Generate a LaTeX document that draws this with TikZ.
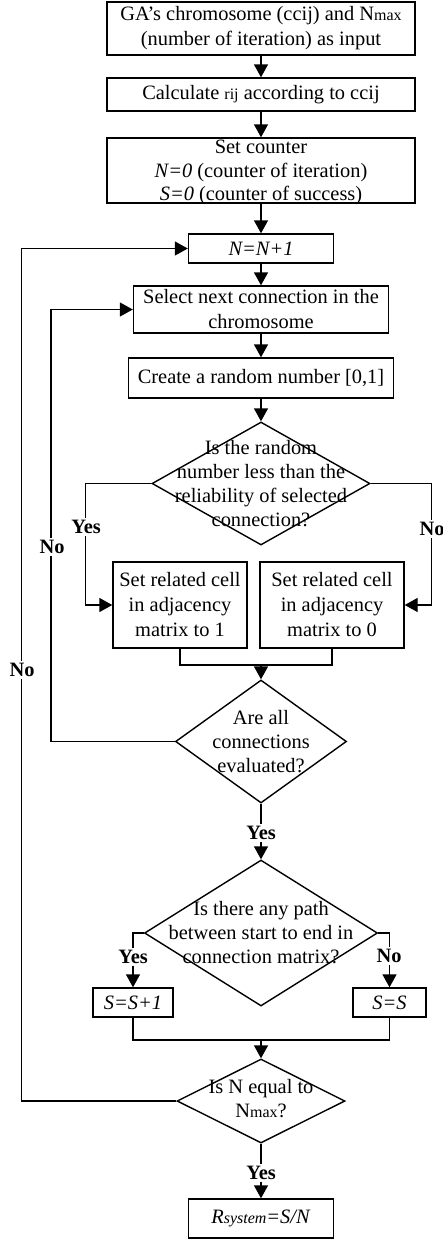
\documentclass[tikz,border=0pt]{standalone}
\usepackage{fontspec}
\setmainfont{Liberation Serif}
\usetikzlibrary{shapes.geometric,arrows.meta}

\newcommand{\sm}[1]{{\fontsize{8}{9}\selectfont #1}}

\tikzset{
  block/.style={draw, line width=0.7pt, align=center, inner sep=0pt,
    font=\fontsize{10.2}{12.5}\selectfont},
  decision/.style={draw, diamond, line width=0.7pt, inner sep=0pt},
  dtext/.style={align=center, inner sep=0pt, font=\fontsize{10.2}{12}\selectfont},
  line/.style={line width=0.7pt},
  arrow/.style={line, -{Triangle[length=6.5pt,width=7pt]}},
  answer/.style={fill=white, inner sep=1pt, font=\fontsize{10.2}{12}\selectfont\bfseries},
}

\begin{document}
\begin{tikzpicture}[x=0.5pt,y=-0.5pt]
      \useasboundingbox (0,0) rectangle (443,1243);

      %%%% boxes and decisions
      \node[block, minimum width=154pt, minimum height=26.5pt] (start) at (261,28.5)
        {GA's chromosome (ccij) and N\sm{max}\\(number of iteration) as input};
      \node[block, minimum width=154pt, minimum height=16.5pt] (calc) at (261,94.5)
        {Calculate \sm{rij} according to ccij};
      \node[block, minimum width=154pt, minimum height=32.5pt] (init) at (261,170.5) {};
      \node[block, draw=none, font=\fontsize{10.2}{11.8}\selectfont] (inittext) at ([yshift=-1pt]init)
        {Set counter\\\textit{N=0} (counter of iteration)\\\textit{S=0} (counter of success)};
      \node[block, minimum width=72.5pt, minimum height=14.5pt] (inc) at (261,248.5)
        {\textit{N=N+1}};
      \node[block, minimum width=127.5pt, minimum height=23.5pt] (select) at (261,309.5)
        {Select next connection in the\\chromosome};
      \node[block, minimum width=132.5pt, minimum height=20pt] (rand) at (261,378)
        {Create a random number [0,1]};

      \node[decision, minimum width=109pt, minimum height=61.5pt] (less) at (261,483.5) {};
      \node[dtext] (lesstext) at (less)
        {Is the random\\number less than the\\reliability of selected\\connection?};

      \node[block, minimum width=67pt, minimum height=43pt] (setone) at (180,605)
        {Set related cell\\in adjacency\\matrix to 1};
      \node[block, minimum width=72pt, minimum height=43pt] (setzero) at (332,605)
        {Set related cell\\in adjacency\\matrix to 0};

      \node[decision, minimum width=85.5pt, minimum height=61.5pt] (all) at (261,741.5) {};
      \node[dtext] (alltext) at (all) {Are all\\connections\\evaluated?};

      \node[decision, minimum width=116.5pt, minimum height=73pt] (path) at (261,933) {};
      \node[dtext] (pathtext) at (path)
        {Is there any path\\between start to end in\\connection matrix?};

      \node[block, minimum width=40pt, minimum height=14.5pt] (succ) at (133,1002.5)
        {\textit{S=S+1}};
      \node[block, minimum width=36.5pt, minimum height=14.5pt] (fail) at (389.5,1002.5)
        {\textit{S=S}};

      \node[decision, minimum width=84pt, minimum height=42pt] (max) at (261,1101) {};
      \node[dtext] (maxtext) at ([yshift=1pt]max) {Is N equal to\\N\sm{max}?};

      \node[block, minimum width=72.5pt, minimum height=19.5pt] (result) at (261,1218.5)
        {\textit{R\sm{system}=S/N}};

      %%%% straight flow
      \draw[arrow] (start) -- (calc);
      \draw[arrow] (calc) -- (init);
      \draw[arrow] (init) -- (inc);
      \draw[arrow] (inc) -- (select);
      \draw[arrow] (select) -- (rand);
      \draw[arrow] (rand) -- (less);

      %%%% first decision
      \draw[arrow] (less.west) -- ++(-66,0) |- (setone);
      \draw[arrow] (less.east) -- ++(61,0) |- (setzero);
      \coordinate (join1) at (261,665);
      \draw[line] (setone.south) |- (join1) -| (setzero.south);
      \draw[arrow] (join1) -- (all.north);

      %%%% loops back
      \draw[arrow] (all.west) -- ++(-124,0) |- (select);
      \draw[arrow] (all.south) -- (path.north);

      \draw[arrow] (path.west) -| (succ);
      \draw[arrow] (path.east) -| (fail);
      \coordinate (join2) at (261,1040);
      \draw[line] (succ.south) |- (join2) -| (fail.south);
      \draw[arrow] (join2) -- (max.north);

      \draw[arrow] (max.west) -- ++(-155,0) |- (inc);
      \draw[arrow] (max.south) -- (result);

      %%%% answers
      \node[answer] (yesone) at (86,527) {Yes};
      \node[answer] (noone) at (432,529) {No};
      \node[answer] (notwo) at (52,547) {No};
      \node[answer] (nothree) at (22,670) {No};
      \node[answer] (yestwo) at (261,833) {Yes};
      \node[answer] (yesthree) at (133,957) {Yes};
      \node[answer] (nofour) at (389,956) {No};
      \node[answer] (yesfour) at (261,1173) {Yes};
\end{tikzpicture}
\end{document}
